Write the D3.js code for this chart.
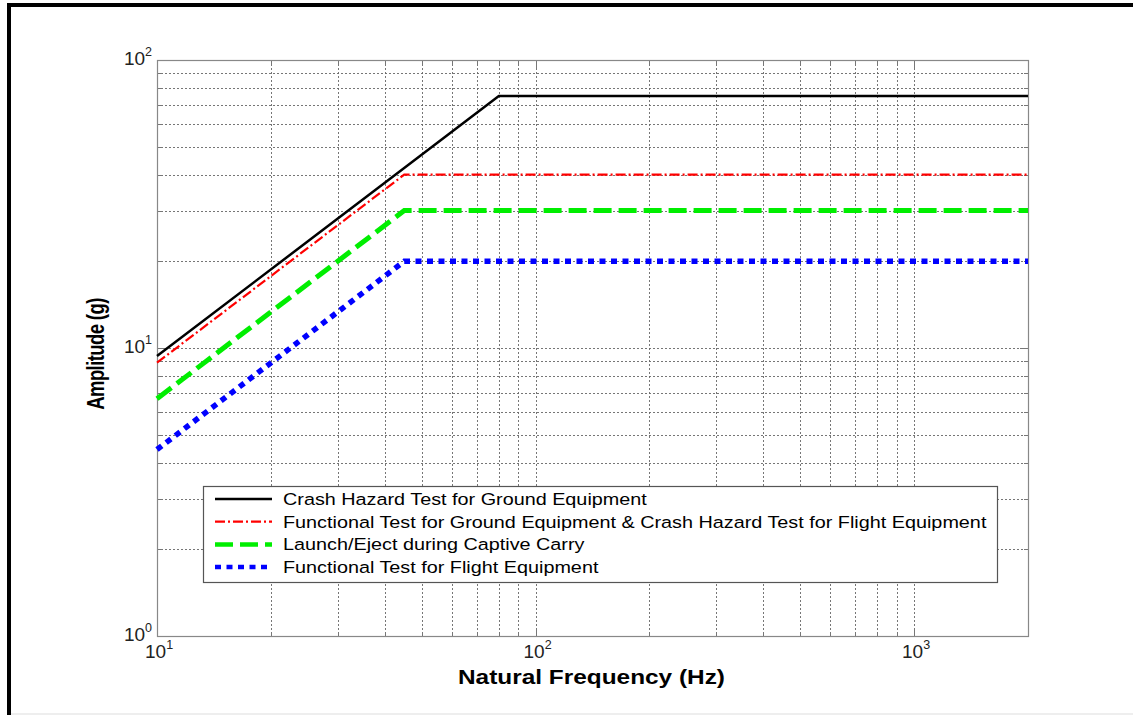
<!DOCTYPE html>
<html>
<head>
    <meta charset="UTF-8">
    <title>Amplitude vs Natural Frequency</title>
    <script src="https://cdn.jsdelivr.net/npm/d3@7"></script>
    <style>
        body { margin: 0; background: #fff; }
        text { font-family: "Liberation Sans", Arial, sans-serif; }
    </style>
</head>
<body>
    <svg id="mySvg" width="1133" height="715"></svg>
    <script>
        // data
        var xDomain = [10, 2000];
        var yDomain = [1, 100];
        var seriesNames = [
            "Crash Hazard Test for Ground Equipment",
            "Functional Test for Ground Equipment & Crash Hazard Test for Flight Equipment",
            "Launch/Eject during Captive Carry",
            "Functional Test for Flight Equipment"
        ];
        var crashGround = [[10, 9.375], [80, 75], [2000, 75]];
        var functionalGround = [[10, 8.89], [45, 40], [2000, 40]];
        var launchEject = [[10, 6.67], [45, 30], [2000, 30]];
        var functionalFlight = [[10, 4.44], [45, 20], [2000, 20]];
        var xMajorTicks = [10, 100, 1000];
        var yMajorTicks = [1, 10, 100];

        var styles = [
            { color: "#000000", width: 2.5, dash: null },
            { color: "#ff0000", width: 2.2, dash: "10,3,2,3" },
            { color: "#00ee00", width: 5, dash: "18,7" },
            { color: "#0000ff", width: 5.5, dash: "6,5.5" }
        ];
        var allSeries = [crashGround, functionalGround, launchEject, functionalFlight];

        var svg = d3.select("#mySvg");
        var margin = { left: 157, top: 60, right: 1028, bottom: 636 };

        // outer frame
        svg.append("line").attr("x1", 9).attr("y1", 3).attr("x2", 9).attr("y2", 715)
            .style("stroke", "#000").style("stroke-width", 4);
        svg.append("line").attr("x1", 7).attr("y1", 5).attr("x2", 1133).attr("y2", 5)
            .style("stroke", "#000").style("stroke-width", 4);
        svg.append("line").attr("x1", 11).attr("y1", 714).attr("x2", 1133).attr("y2", 714)
            .style("stroke", "#ddd").style("stroke-width", 1);

        var x = d3.scaleLog().domain(xDomain).range([margin.left, margin.right]);
        var y = d3.scaleLog().domain(yDomain).range([margin.bottom, margin.top]);

        // grid values (every 1..9 times a decade)
        var xGrid = [];
        [10, 100, 1000].forEach(function (d) {
            for (var k = 1; k <= 9; k++) {
                var v = d * k;
                if (v > xDomain[0] && v < xDomain[1]) xGrid.push(v);
            }
        });
        var yGrid = [];
        [1, 10].forEach(function (d) {
            for (var k = 1; k <= 9; k++) {
                var v = d * k;
                if (v > yDomain[0] && v < yDomain[1]) yGrid.push(v);
            }
        });

        var grid = svg.append("g");
        grid.selectAll(".gx").data(xGrid).enter().append("line")
            .attr("x1", function (d) { return Math.round(x(d)) + 0.5; })
            .attr("x2", function (d) { return Math.round(x(d)) + 0.5; })
            .attr("y1", margin.top).attr("y2", margin.bottom)
            .style("stroke", "#666").style("stroke-width", 0.9)
            .style("stroke-dasharray", "2,2");
        grid.selectAll(".gy").data(yGrid).enter().append("line")
            .attr("y1", function (d) { return Math.round(y(d)) + 0.5; })
            .attr("y2", function (d) { return Math.round(y(d)) + 0.5; })
            .attr("x1", margin.left).attr("x2", margin.right)
            .style("stroke", "#666").style("stroke-width", 0.9)
            .style("stroke-dasharray", "2,2");

        // tick marks inside box
        var ticks = svg.append("g").style("stroke", "#777").style("stroke-width", 1);
        xGrid.concat([xDomain[0]]).forEach(function (d) {
            var len = xMajorTicks.indexOf(d) >= 0 ? 8 : 4;
            var px = Math.round(x(d)) + 0.5;
            ticks.append("line").attr("x1", px).attr("x2", px)
                .attr("y1", margin.bottom).attr("y2", margin.bottom - len);
            ticks.append("line").attr("x1", px).attr("x2", px)
                .attr("y1", margin.top).attr("y2", margin.top + len);
        });
        yGrid.forEach(function (d) {
            var len = yMajorTicks.indexOf(d) >= 0 ? 8 : 4;
            var py = Math.round(y(d)) + 0.5;
            ticks.append("line").attr("y1", py).attr("y2", py)
                .attr("x1", margin.left).attr("x2", margin.left + len);
            ticks.append("line").attr("y1", py).attr("y2", py)
                .attr("x1", margin.right).attr("x2", margin.right - len);
        });

        // box
        svg.append("rect")
            .attr("x", margin.left + 0.5).attr("y", margin.top + 0.5)
            .attr("width", margin.right - margin.left).attr("height", margin.bottom - margin.top)
            .style("fill", "none").style("stroke", "#888").style("stroke-width", 1.2);

        // tick labels with superscript
        function powLabel(g, v, px, py, anchor) {
            var t = g.append("text").attr("x", px).attr("y", py)
                .attr("text-anchor", anchor)
                .style("font-size", "19px").style("fill", "#222");
            t.append("tspan").text("10");
            t.append("tspan").attr("dy", -9).style("font-size", "12.5px")
                .text(Math.round(Math.log10(v)));
        }
        var labels = svg.append("g");
        yMajorTicks.forEach(function (d) {
            powLabel(labels, d, 152, y(d) + 5, "end");
        });
        xMajorTicks.forEach(function (d) {
            powLabel(labels, d, x(d) - 12, 658, "start");
        });

        // axis titles
        svg.append("text")
            .attr("x", 458).attr("y", 684)
            .attr("textLength", 267).attr("lengthAdjust", "spacingAndGlyphs")
            .style("font-size", "21px").style("font-weight", "bold")
            .text("Natural Frequency (Hz)");
        svg.append("text")
            .attr("transform", "translate(104,354) rotate(-90) scale(1,1.25)")
            .attr("text-anchor", "middle")
            .style("font-size", "18.5px").style("font-weight", "bold")
            .style("letter-spacing", "-0.6px")
            .text("Amplitude (g)");

        // series lines
        var line = d3.line()
            .x(function (d) { return x(d[0]); })
            .y(function (d) { return y(d[1]); });
        svg.selectAll(".series").data(allSeries).enter().append("path")
            .attr("d", line)
            .style("fill", "none")
            .style("stroke", function (d, i) { return styles[i].color; })
            .style("stroke-width", function (d, i) { return styles[i].width; })
            .style("stroke-dasharray", function (d, i) { return styles[i].dash; });

        // legend
        var lg = svg.append("g");
        lg.append("rect").attr("x", 203.5).attr("y", 486.5).attr("width", 794).attr("height", 96)
            .style("fill", "#fff").style("stroke", "#555").style("stroke-width", 1.2);
        seriesNames.forEach(function (name, i) {
            var ry = 499 + i * 22.7;
            lg.append("line").attr("x1", 215).attr("x2", 272).attr("y1", ry).attr("y2", ry)
                .style("stroke", styles[i].color)
                .style("stroke-width", i >= 2 ? 4.5 : styles[i].width)
                .style("stroke-dasharray", styles[i].dash);
            lg.append("text")
                .attr("transform", "translate(283," + (ry + 6) + ") scale(1.2,1)")
                .style("font-size", "16.5px").style("fill", "#000")
                .text(name);
        });
    </script>
</body>
</html>
